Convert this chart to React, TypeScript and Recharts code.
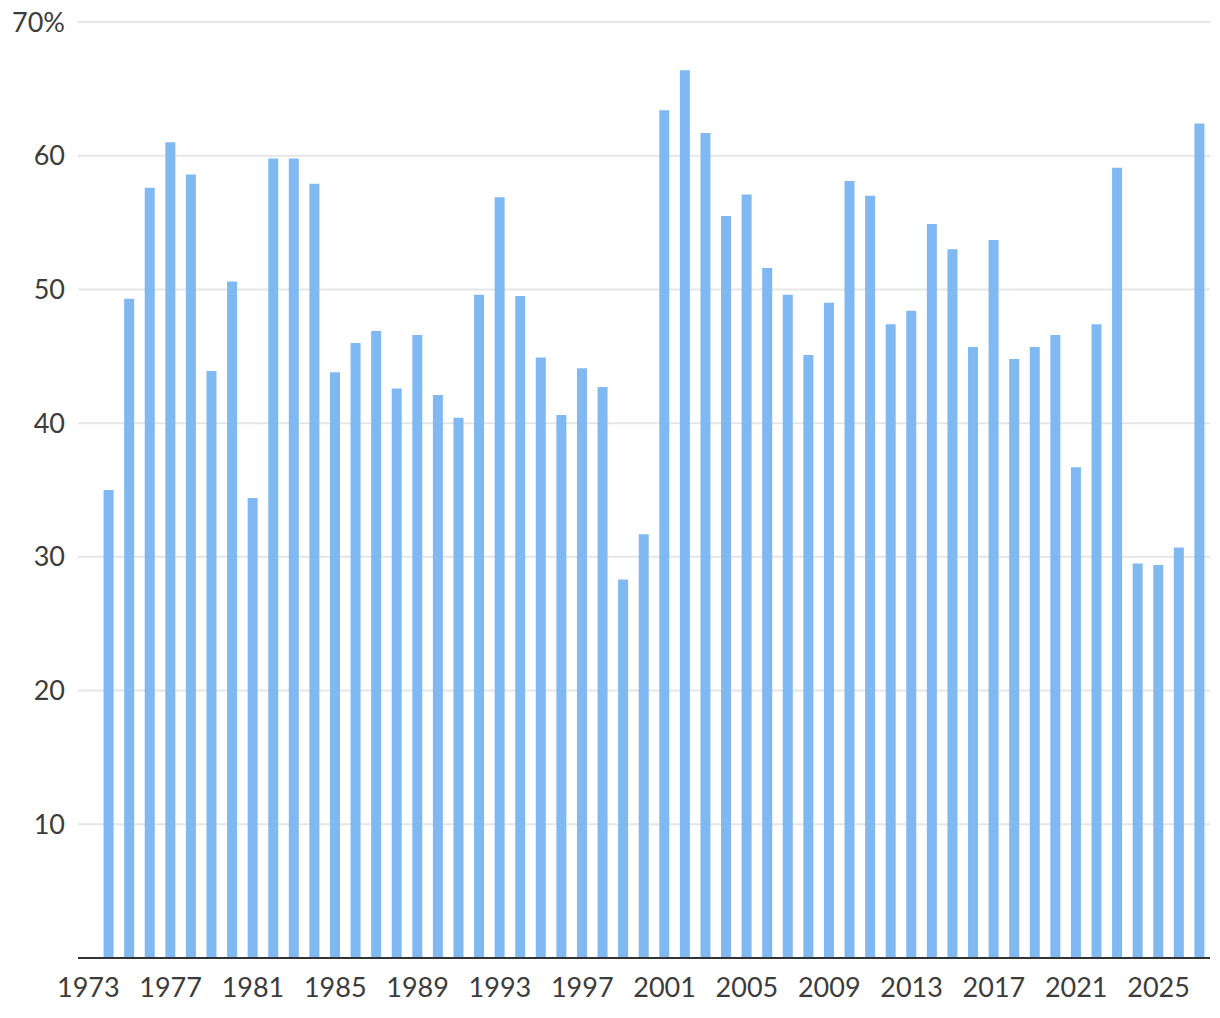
import { BarChart, Bar, XAxis, YAxis, CartesianGrid } from 'recharts'

// years 1973–2027, 1973 has no value
const years = Array.from({ length: 55 }, (_, i) => String(1973 + i))

const shares: (number | null)[] = [
  null,
  35.0, 49.3, 57.6, 61.0, 58.6, 43.9, 50.6, 34.4, 59.8, 59.8, 57.9,
  43.8, 46.0, 46.9, 42.6, 46.6, 42.1, 40.4, 49.6, 56.9, 49.5, 44.9, 40.6, 44.1, 42.7,
  28.3, 31.7, 63.4, 66.4, 61.7, 55.5, 57.1, 51.6, 49.6, 45.1,
  49.0, 58.1, 57.0, 47.4, 48.4, 54.9, 53.0, 45.7, 53.7, 44.8, 45.7, 46.6,
  36.7, 47.4, 59.1, 29.5, 29.4, 30.7, 62.4,
]

const yTicks = [10, 20, 30, 40, 50, 60, 70]

const data = years.map((year, i) => ({ year, value: shares[i] }))

const tickStyle = { fontSize: 27, fill: '#3c3c3c', fontFamily: 'Lato, sans-serif' }

export default function App() {
  return (
    <div style={{ marginTop: -8 }}>
      <BarChart
        width={1212}
        height={1008}
        data={data}
        margin={{ top: 22, right: 10, left: 0, bottom: 0 }}
        barSize={10}
      >
        <CartesianGrid vertical={false} stroke="#e6e6e6" strokeWidth={2} />
        <XAxis
          dataKey="year"
          interval={3}
          height={50}
          tick={tickStyle}
          tickLine={false}
          tickMargin={14}
          axisLine={{ stroke: '#333', strokeWidth: 2 }}
        />
        <YAxis
          width={70}
          domain={[0, 70]}
          ticks={yTicks}
          tick={tickStyle}
          tickFormatter={(v) => (v === 70 ? '70%' : String(v))}
          tickLine={false}
          axisLine={false}
          tickSize={0}
          tickMargin={13}
        />
        <Bar dataKey="value" fill="#80b9f2" isAnimationActive={false} />
      </BarChart>
    </div>
  )
}
